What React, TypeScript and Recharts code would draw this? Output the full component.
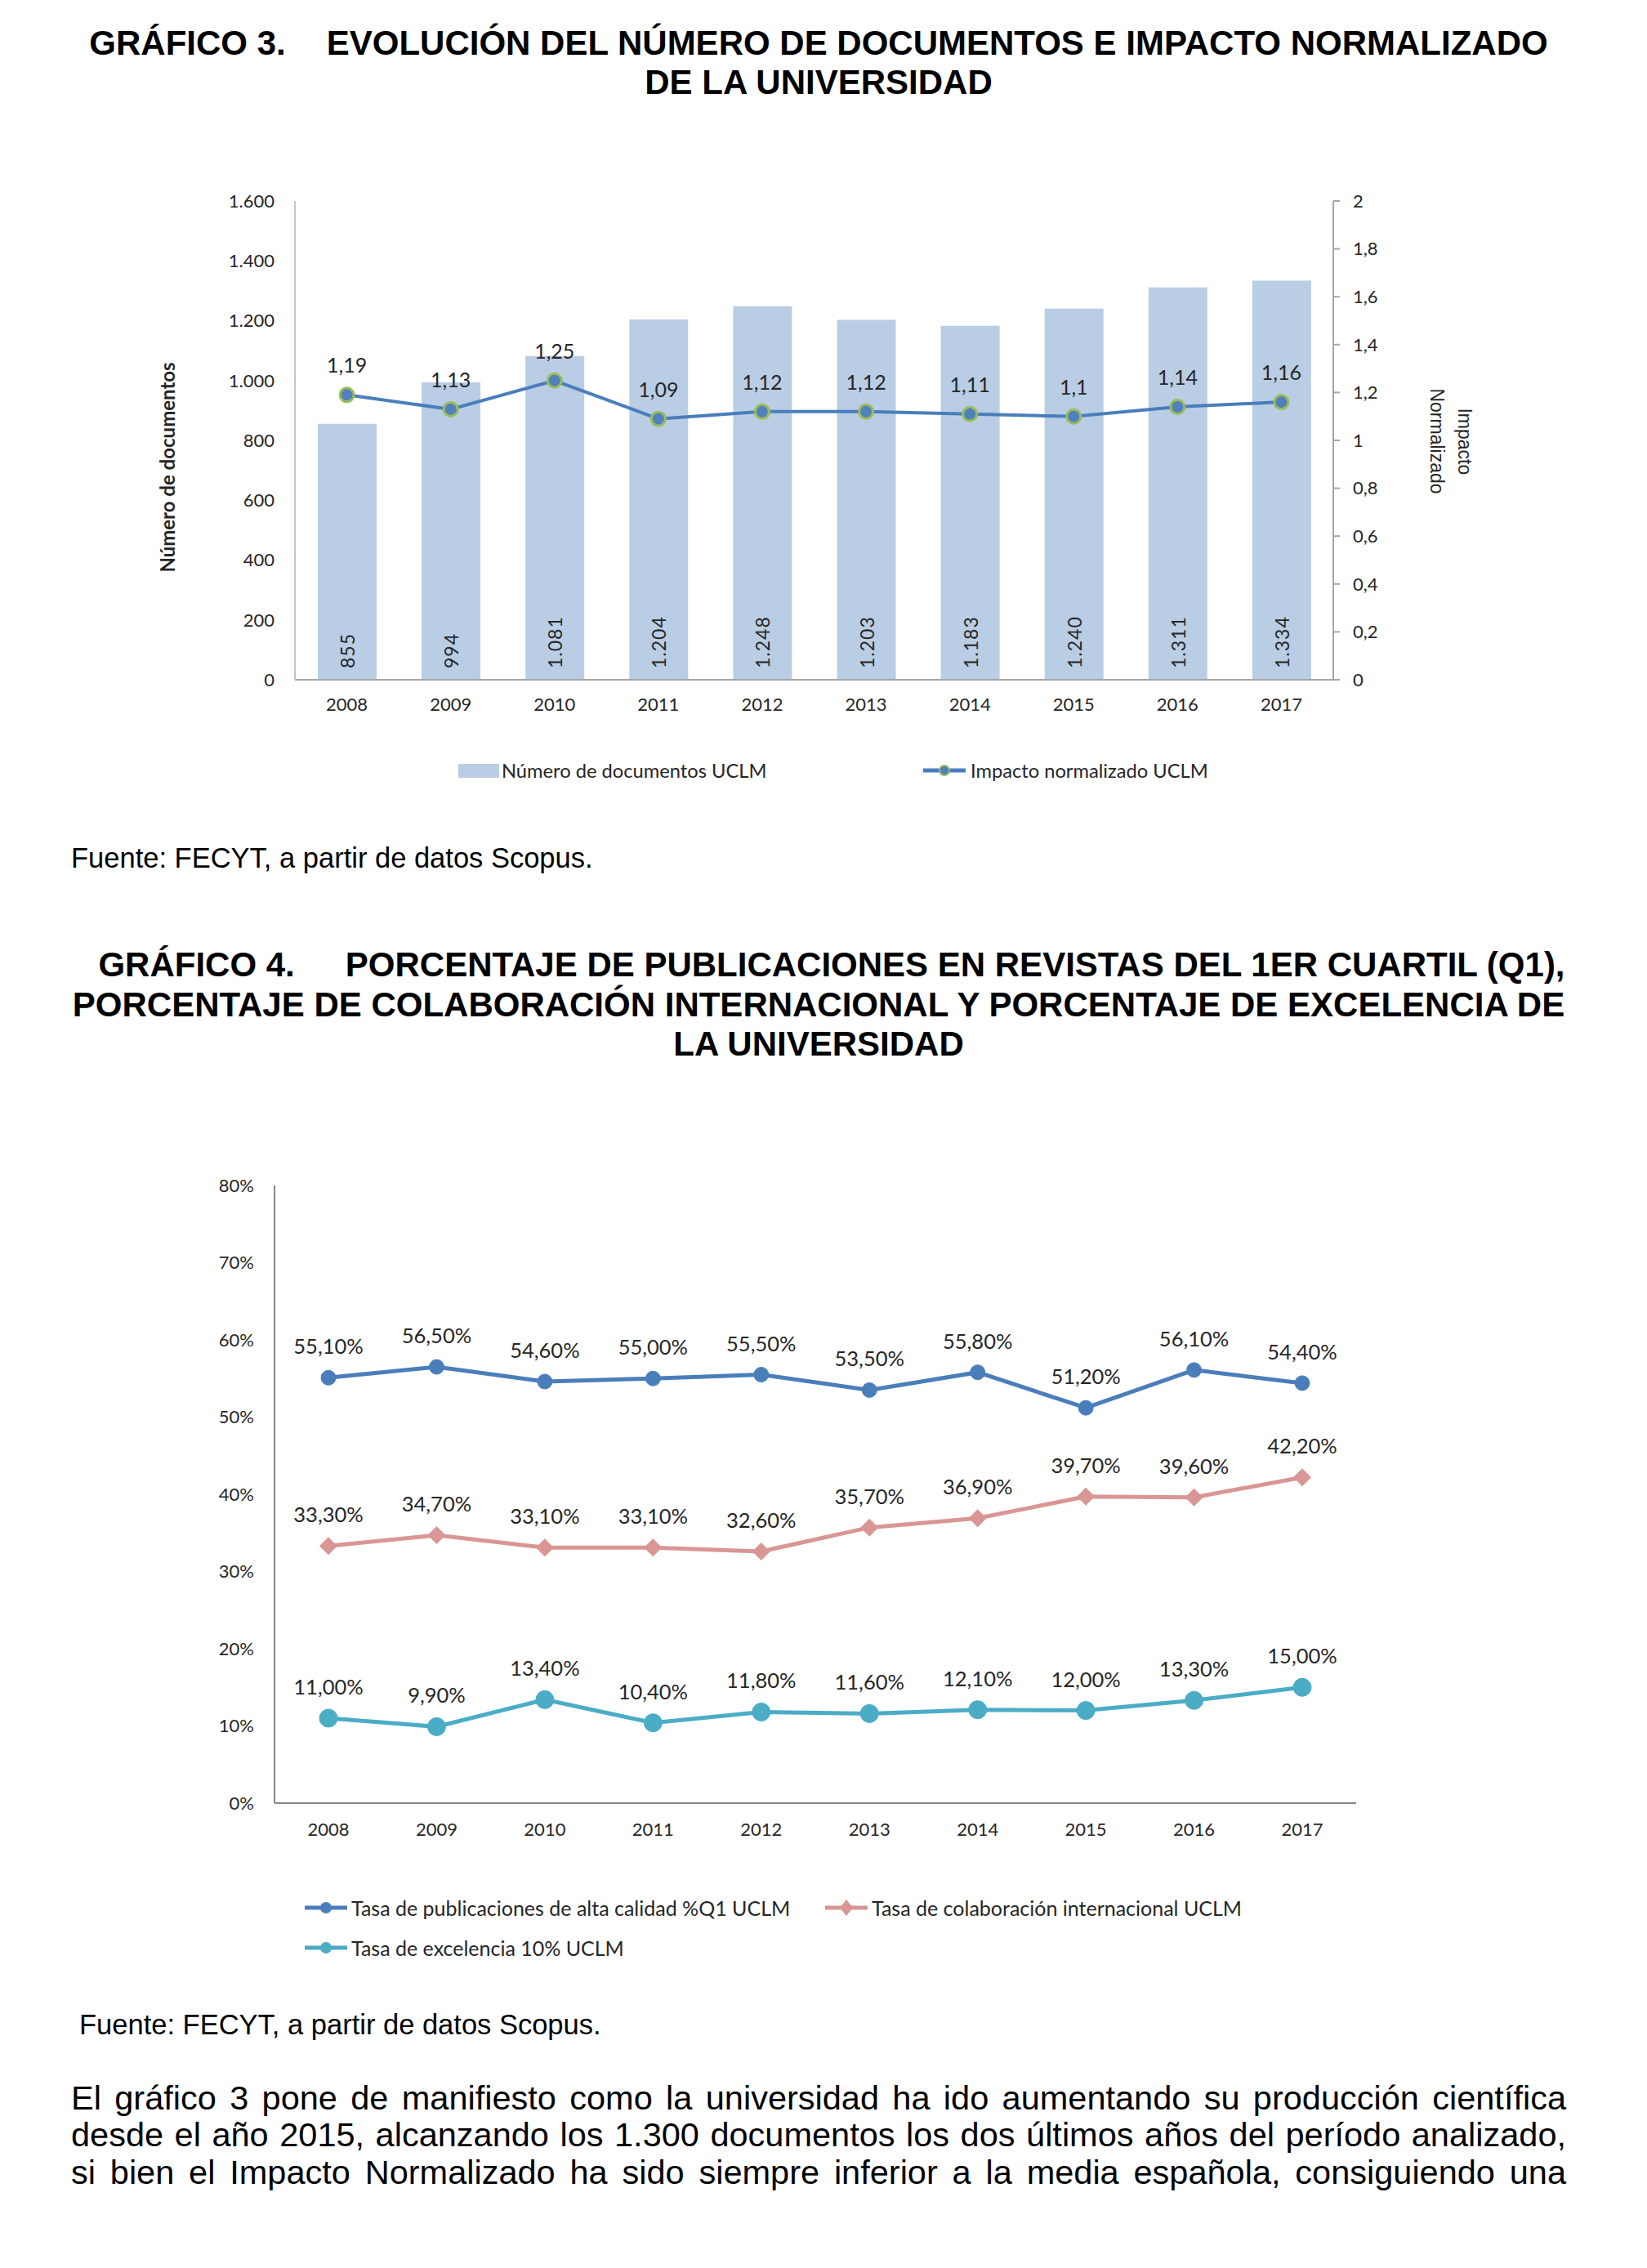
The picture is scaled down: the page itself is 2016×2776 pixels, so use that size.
import React from 'react';
import { ComposedChart, LineChart, Bar, Line, XAxis, YAxis, LabelList } from 'recharts';

const years = ['2008', '2009', '2010', '2011', '2012', '2013', '2014', '2015', '2016', '2017'];

// Gráfico 3
const documentos = [855, 994, 1081, 1204, 1248, 1203, 1183, 1240, 1311, 1334];
const impacto = [1.19, 1.13, 1.25, 1.09, 1.12, 1.12, 1.11, 1.1, 1.14, 1.16];
const docTicks = [0, 200, 400, 600, 800, 1000, 1200, 1400, 1600];
const impTicks = [0, 0.2, 0.4, 0.6, 0.8, 1, 1.2, 1.4, 1.6, 1.8, 2];

// Gráfico 4
const tasaQ1 = [55.1, 56.5, 54.6, 55.0, 55.5, 53.5, 55.8, 51.2, 56.1, 54.4];
const tasaColab = [33.3, 34.7, 33.1, 33.1, 32.6, 35.7, 36.9, 39.7, 39.6, 42.2];
const tasaExcelencia = [11.0, 9.9, 13.4, 10.4, 11.8, 11.6, 12.1, 12.0, 13.3, 15.0];
const pctTicks = [0, 10, 20, 30, 40, 50, 60, 70, 80];

const CHART_FONT = 'Lato, "Open Sans", sans-serif';
const DOC_FONT = '"Liberation Sans", Arial, sans-serif';
const TXT = '#262626';

const BAR_BLUE = '#B9CDE5';
const LINE_BLUE = '#4A7EBB';
const DOT_GREEN = '#9BBB59';
const PINK = '#D99694';
const TEAL = '#4BACC6';

const data3 = years.map((year, i) => ({ year, docs: documentos[i], imp: impacto[i] }));
const data4 = years.map((year, i) => ({ year, q1: tasaQ1[i], colab: tasaColab[i], exc: tasaExcelencia[i] }));

const miles = (v: number) => String(v).replace(/\B(?=(\d{3})+(?!\d))/g, '.');
const coma = (v: number) => String(v).replace('.', ',');
const pct = (v: number) => v.toFixed(2).replace('.', ',') + '%';

function box(p: any) {
  const vb = p.viewBox || {};
  return {
    x: Number(vb.x ?? p.x),
    y: Number(vb.y ?? p.y),
    w: Number(vb.width ?? p.width ?? 0),
    h: Number(vb.height ?? p.height ?? 0),
  };
}

function BarValueLabel(p: any) {
  const { x, y, w, h } = box(p);
  const cx = x + w / 2;
  const by = y + h - 14;
  return (
    <text x={cx} y={by} transform={`rotate(-90 ${cx} ${by})`} textAnchor="start" dominantBaseline="central"
      fontFamily={CHART_FONT} fontSize={23} letterSpacing={1} fill={TXT}>
      {miles(p.value)}
    </text>
  );
}

function ImpLabel(p: any) {
  const { x, y } = box(p);
  return (
    <text x={x} y={y - 27} textAnchor="middle" fontFamily={CHART_FONT} fontSize={25} fill={TXT}>
      {coma(p.value)}
    </text>
  );
}

function PctLabel(p: any) {
  const { x, y } = box(p);
  return (
    <text x={x} y={y - 29} textAnchor="middle" fontFamily={CHART_FONT} fontSize={25.5} fill={TXT}>
      {pct(p.value)}
    </text>
  );
}

function Diamond(p: any) {
  const { cx, cy } = p;
  if (cx == null || cy == null) return <g key={p.index} />;
  const s = 11;
  return <path key={p.index} d={`M${cx},${cy - s}L${cx + s},${cy}L${cx},${cy + s}L${cx - s},${cy}Z`} fill={PINK} />;
}

const tick3 = { fontSize: 22, fill: TXT, fontFamily: CHART_FONT };
const tick4 = { fontSize: 22, fill: TXT, fontFamily: CHART_FONT };

function Grafico3() {
  return (
    <div style={{ position: 'absolute', left: 0, top: 200 }}>
      <ComposedChart width={2016} height={800} data={data3} margin={{ top: 46, right: 284, bottom: 128, left: 261 }}>
        <XAxis dataKey="year" tickLine={false} tickSize={0} tickMargin={22} height={40}
          axisLine={{ stroke: '#A6A6A6', strokeWidth: 2 }} tick={tick3} />
        <XAxis xAxisId="top" dataKey="year" orientation="top" height={0} tick={false} tickLine={false}
          axisLine={{ stroke: '#D4D4D4', strokeWidth: 2 }} />
        <YAxis yAxisId="docs" domain={[0, 1600]} ticks={docTicks} tickFormatter={miles} width={100}
          tickLine={false} tickSize={0} tickMargin={25} axisLine={{ stroke: '#C4C4C4', strokeWidth: 2 }} tick={tick3} />
        <YAxis yAxisId="imp" orientation="right" domain={[0, 2]} ticks={impTicks} tickFormatter={coma} width={100}
          tickSize={8} tickMargin={16} tickLine={{ stroke: '#A6A6A6', strokeWidth: 2 }}
          axisLine={{ stroke: '#A6A6A6', strokeWidth: 2 }} tick={tick3} />
        <Bar yAxisId="docs" dataKey="docs" fill={BAR_BLUE} barSize={72} isAnimationActive={false}>
          <LabelList dataKey="docs" content={BarValueLabel} />
        </Bar>
        <Line yAxisId="imp" dataKey="imp" stroke={LINE_BLUE} strokeWidth={4}
          dot={{ r: 8.5, fill: '#4F81BD', stroke: DOT_GREEN, strokeWidth: 3 }} activeDot={false} isAnimationActive={false}>
          <LabelList dataKey="imp" content={ImpLabel} />
        </Line>
      </ComposedChart>
    </div>
  );
}

function Grafico4() {
  return (
    <div style={{ position: 'absolute', left: 0, top: 1380 }}>
      <LineChart width={2016} height={900} data={data4} margin={{ top: 71, right: 356, bottom: 33, left: 236 }}>
        <XAxis dataKey="year" padding={{ left: 66, right: 66 }} tickLine={false} tickSize={0} tickMargin={24} height={40}
          axisLine={{ stroke: '#868686', strokeWidth: 2 }} tick={tick4} />
        <XAxis xAxisId="top" dataKey="year" orientation="top" height={0} tick={false} tickLine={false}
          axisLine={{ stroke: '#868686', strokeWidth: 2 }} />
        <YAxis domain={[0, 80]} ticks={pctTicks} tickFormatter={(v: number) => v + '%'} width={100}
          tickLine={false} tickSize={0} tickMargin={25} axisLine={{ stroke: '#868686', strokeWidth: 2 }} tick={tick4} />
        <YAxis yAxisId="right" orientation="right" domain={[0, 80]} width={0} tick={false} tickLine={false}
          axisLine={{ stroke: '#868686', strokeWidth: 2 }} />
        <Line dataKey="q1" stroke={LINE_BLUE} strokeWidth={5} dot={{ r: 9, fill: LINE_BLUE, stroke: LINE_BLUE, strokeWidth: 1 }}
          activeDot={false} isAnimationActive={false}>
          <LabelList dataKey="q1" content={PctLabel} />
        </Line>
        <Line dataKey="colab" stroke={PINK} strokeWidth={5} dot={(p: any) => <Diamond {...p} key={p.index} />}
          activeDot={false} isAnimationActive={false}>
          <LabelList dataKey="colab" content={PctLabel} />
        </Line>
        <Line dataKey="exc" stroke={TEAL} strokeWidth={5} dot={{ r: 11, fill: TEAL, stroke: TEAL, strokeWidth: 1 }}
          activeDot={false} isAnimationActive={false}>
          <LabelList dataKey="exc" content={PctLabel} />
        </Line>
      </LineChart>
    </div>
  );
}

function LineIcon({ color, marker }: { color: string; marker: 'circle' | 'diamond' | 'ring' }) {
  return (
    <svg width={54} height={24} style={{ display: 'block' }}>
      <line x1={1} y1={12} x2={53} y2={12} stroke={color} strokeWidth={5} />
      {marker === 'diamond' && <path d="M27,2L35,12L27,22L19,12Z" fill={color} />}
      {marker === 'circle' && <circle cx={27} cy={12} r={7} fill={color} />}
      {marker === 'ring' && <circle cx={27} cy={12} r={6} fill="#4F81BD" stroke={DOT_GREEN} strokeWidth={2} />}
    </svg>
  );
}

const legendText: React.CSSProperties = { fontFamily: CHART_FONT, fontSize: 23.7, color: TXT, whiteSpace: 'nowrap' };
const legendText4: React.CSSProperties = { ...legendText, fontSize: 25 };

function LegendItem({ left, cy, icon, label, textLeft, textStyle }: {
  left: number; cy: number; icon: React.ReactNode; label: string; textLeft: number; textStyle: React.CSSProperties;
}) {
  return (
    <div style={{ position: 'absolute', left, top: cy - 16, height: 32, display: 'flex', alignItems: 'center' }}>
      {icon}
      <span style={{ ...textStyle, marginLeft: textLeft }}>{label}</span>
    </div>
  );
}

function Linea({ top, children, style }: { top: number; children: React.ReactNode; style?: React.CSSProperties }) {
  return (
    <div style={{ position: 'absolute', left: 87, width: 1830, top, ...style }}>{children}</div>
  );
}

const titulo: React.CSSProperties = {
  fontFamily: DOC_FONT, fontWeight: 700, fontSize: 42, lineHeight: '48px', textAlign: 'center', color: '#000', whiteSpace: 'nowrap',
};
const fuente: React.CSSProperties = { fontFamily: DOC_FONT, fontSize: 34.5, lineHeight: '40px', color: '#000', whiteSpace: 'nowrap' };
const parrafo: React.CSSProperties = {
  fontFamily: DOC_FONT, fontSize: 41.5, lineHeight: '48px', color: '#000', textAlign: 'justify', textAlignLast: 'justify', whiteSpace: 'nowrap',
};

export default function App() {
  return (
    <div style={{ position: 'absolute', left: 0, top: 0, width: 2016, height: 2776, background: '#fff', overflow: 'hidden' }}>
      <Linea top={29} style={titulo}>
        GRÁFICO 3.<span style={{ display: 'inline-block', width: 50 }} />EVOLUCIÓN DEL NÚMERO DE DOCUMENTOS E IMPACTO NORMALIZADO
      </Linea>
      <Linea top={77} style={titulo}>DE LA UNIVERSIDAD</Linea>

      <Grafico3 />
      <div style={{
        position: 'absolute', left: 204, top: 572, transform: 'translate(-50%, -50%) rotate(180deg)',
        writingMode: 'vertical-rl', fontFamily: CHART_FONT, fontWeight: 700, fontSize: 24, color: TXT, whiteSpace: 'nowrap',
      }}>Número de documentos</div>
      <div style={{
        position: 'absolute', left: 1776, top: 540, transform: 'translate(-50%, -50%)',
        writingMode: 'vertical-rl', fontFamily: DOC_FONT, fontSize: 23, lineHeight: '34px', color: TXT, textAlign: 'center', whiteSpace: 'nowrap',
      }}>Impacto<br />Normalizado</div>

      <div style={{ position: 'absolute', left: 561, top: 935, width: 50, height: 17, background: BAR_BLUE }} />
      <div style={{ position: 'absolute', left: 614, top: 927, height: 32, display: 'flex', alignItems: 'center' }}>
        <span style={legendText}>Número de documentos UCLM</span>
      </div>
      <LegendItem left={1129} cy={943} icon={<LineIcon color={LINE_BLUE} marker="ring" />} label="Impacto normalizado UCLM" textLeft={5} textStyle={legendText} />

      <div style={{ ...fuente, position: 'absolute', left: 87, top: 1030 }}>Fuente: FECYT, a partir de datos Scopus.</div>

      <Linea top={1157} style={{ ...titulo, paddingLeft: 32, boxSizing: 'border-box' }}>
        GRÁFICO 4.<span style={{ display: 'inline-block', width: 62 }} />PORCENTAJE DE PUBLICACIONES EN REVISTAS DEL 1ER CUARTIL (Q1),
      </Linea>
      <Linea top={1206} style={titulo}>PORCENTAJE DE COLABORACIÓN INTERNACIONAL Y PORCENTAJE DE EXCELENCIA DE</Linea>
      <Linea top={1254} style={titulo}>LA UNIVERSIDAD</Linea>

      <Grafico4 />
      <LegendItem left={372} cy={2335} icon={<LineIcon color={LINE_BLUE} marker="circle" />} label="Tasa de publicaciones de alta calidad %Q1 UCLM" textLeft={4} textStyle={legendText4} />
      <LegendItem left={1009} cy={2335} icon={<LineIcon color={PINK} marker="diamond" />} label="Tasa de colaboración internacional UCLM" textLeft={4} textStyle={legendText4} />
      <LegendItem left={372} cy={2384} icon={<LineIcon color={TEAL} marker="circle" />} label="Tasa de excelencia 10% UCLM" textLeft={4} textStyle={legendText4} />

      <div style={{ ...fuente, position: 'absolute', left: 97, top: 2458 }}>Fuente: FECYT, a partir de datos Scopus.</div>

      <Linea top={2544} style={parrafo}>El gráfico 3 pone de manifiesto como la universidad ha ido aumentando su producción científica</Linea>
      <Linea top={2589} style={parrafo}>desde el año 2015, alcanzando los 1.300 documentos los dos últimos años del período analizado,</Linea>
      <Linea top={2635} style={parrafo}>si bien el Impacto Normalizado ha sido siempre inferior a la media española, consiguiendo una</Linea>
    </div>
  );
}
